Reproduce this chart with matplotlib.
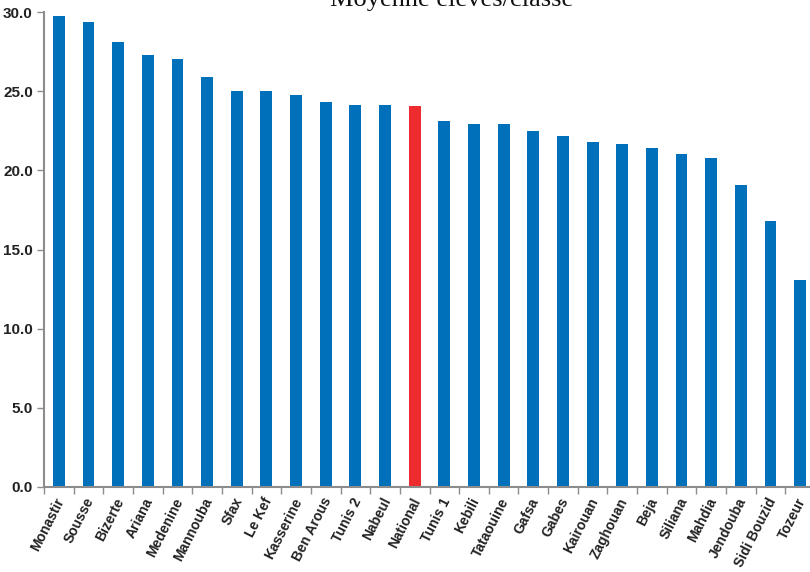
import numpy as np
import matplotlib
matplotlib.use("Agg")
import matplotlib.pyplot as plt
import matplotlib.transforms as mtransforms

# Data
regions = ["Monastir", "Sousse", "Bizerte", "Ariana", "Medenine", "Mannouba",
           "Sfax", "Le Kef", "Kasserine", "Ben Arous", "Tunis 2", "Nabeul",
           "National", "Tunis 1", "Kebili", "Tataouine", "Gafsa", "Gabes",
           "Kairouan", "Zaghouan", "Beja", "Siliana", "Mahdia", "Jendouba",
           "Sidi Bouzid", "Tozeur"]
moyenne = [29.75, 29.37, 28.1, 27.3, 27.04, 25.9,
           25.0, 25.0, 24.76, 24.32, 24.13, 24.13,
           24.07, 23.12, 22.93, 22.93, 22.49, 22.17,
           21.8, 21.67, 21.42, 21.04, 20.78, 19.08,
           16.8, 13.08]
yticks = [0, 5, 10, 15, 20, 25, 30]

blue = "#0070BA"
red = "#EE2B2E"
grey = "#8C8C8C"

fig = plt.figure(figsize=(8.1, 5.72), dpi=100)
ax = fig.add_axes([44 / 810, 85 / 572, (815 - 44) / 810, 475 / 572])

x = np.arange(len(regions))
colors = [red if r == "National" else blue for r in regions]
ax.bar(x, moyenne, width=0.4, color=colors, zorder=2)

ax.set_xlim(-0.5, len(regions) - 0.5)
ax.set_ylim(0, 30)
ax.set_yticks(yticks)
ax.set_yticklabels([f"{v:.1f}" for v in yticks], fontsize=11,
                   fontweight="bold", family="Liberation Sans", color="#222222")

# category labels at bar centers, tick marks between categories
ax.set_xticks(x)
ax.set_xticklabels(regions, rotation=63, ha="right", rotation_mode="anchor",
                   fontsize=10, fontweight="bold", family="Liberation Sans",
                   color="#222222")
ax.tick_params(axis="x", length=0, pad=6)
shift = mtransforms.ScaledTranslation(-4 / 100, 0, fig.dpi_scale_trans)
for lab in ax.get_xticklabels():
    lab.set_transform(lab.get_transform() + shift)
ax.set_xticks(np.arange(-0.5, len(regions), 1), minor=True)
ax.tick_params(axis="x", which="minor", length=5, color=grey, width=1)
ax.tick_params(axis="y", length=5, color=grey, width=1, pad=3)

for side in ["top", "right"]:
    ax.spines[side].set_visible(False)
for side in ["left", "bottom"]:
    ax.spines[side].set_color(grey)
    ax.spines[side].set_linewidth(1.5)

fig.text(452 / 810, 566 / 572, "Moyenne élèves/classe", ha="center",
         va="baseline", fontsize=19, family="Liberation Serif", color="#111111")

fig.savefig("out.png", dpi=100)
